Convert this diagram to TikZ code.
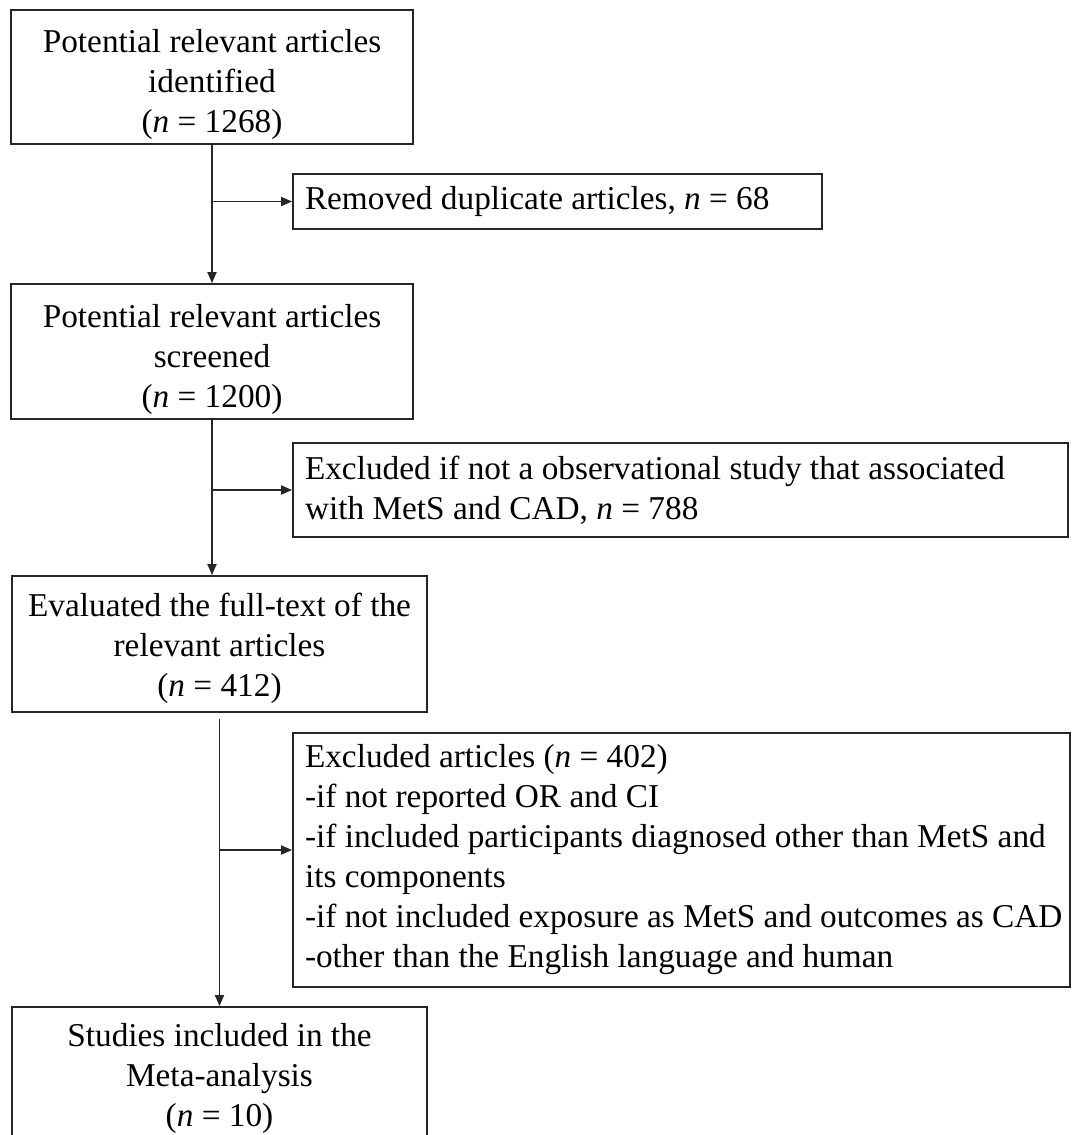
\documentclass[tikz,border=0pt]{standalone}
\usepackage{fontspec}
\setmainfont{Liberation Serif}
\usetikzlibrary{arrows.meta}
\newcommand{\fsz}{\fontsize{33.3}{40}\selectfont}
\begin{document}
\begin{tikzpicture}[x=1pt,y=-1pt,
  box/.style={draw=black!85, line width=1.8pt, rectangle, inner sep=0pt, font=\fsz},
  ctext/.style={font=\fsz, align=center, inner sep=0pt},
  lbox/.style={box, align=flush left, inner xsep=12pt},
  arr/.style={line width=1.8pt, draw=black!85, -{Triangle[length=11pt,width=9pt]}}]
\useasboundingbox (0,0) rectangle (1072,1135);
\clip (0,0) rectangle (1072,1135);

\node[box, minimum width=402pt, minimum height=134pt,
  label={[ctext, yshift=-7pt]center:{Potential relevant articles\\identified\\(\textit{n} = 1268)}}] (b1) at (212,77) {};
\node[lbox, minimum width=529pt, minimum height=55pt, text width=505pt] (r1) at (557.5,201.5)
  {\mbox{Removed duplicate articles, \textit{n} = 68}};
\node[box, minimum width=402pt, minimum height=135pt,
  label={[ctext, yshift=-8pt]center:{Potential relevant articles\\screened\\(\textit{n} = 1200)}}] (b2) at (212,351.5) {};
\node[lbox, minimum width=775pt, minimum height=94pt, text width=751pt] (r2) at (680.5,490)
  {\mbox{Excluded if not a observational study that associated}\\\mbox{with MetS and CAD, \textit{n} = 788}};
\node[box, minimum width=415pt, minimum height=136pt,
  label={[ctext, yshift=-4pt]center:{Evaluated the full-text of the\\relevant articles\\(\textit{n} = 412)}}] (b3) at (219.5,644) {};
\node[lbox, minimum width=777pt, minimum height=254pt, text width=753pt] (r3) at (681.5,860)
  {\mbox{Excluded articles (\textit{n} = 402)}\\\mbox{-if not reported OR and CI}\\\mbox{-if included participants diagnosed other than MetS and}\\\mbox{its components}\\\mbox{-if not included exposure as MetS and outcomes as CAD}\\\mbox{-other than the English language and human}};
\node[box, minimum width=415pt, minimum height=140pt,
  label={[ctext, yshift=-1pt]center:{Studies included in the\\Meta-analysis\\(\textit{n} = 10)}}] (b4) at (219.5,1077) {};

\draw[arr] (b1.south) -- (b2.north);
\draw[arr] (b1.south |- r1.west) -- (r1.west);
\draw[arr] (b2.south) -- (b2.south |- b3.north);
\draw[arr] (b2.south |- r2.west) -- (r2.west);
\coordinate (s3) at ([yshift=-6pt]b3.south);
\coordinate (j3) at (219,850);
\draw[arr] (s3) -- (s3 |- b4.north);
\draw[arr] (s3 |- j3) -- (j3 -| r3.west);
\end{tikzpicture}
\end{document}
